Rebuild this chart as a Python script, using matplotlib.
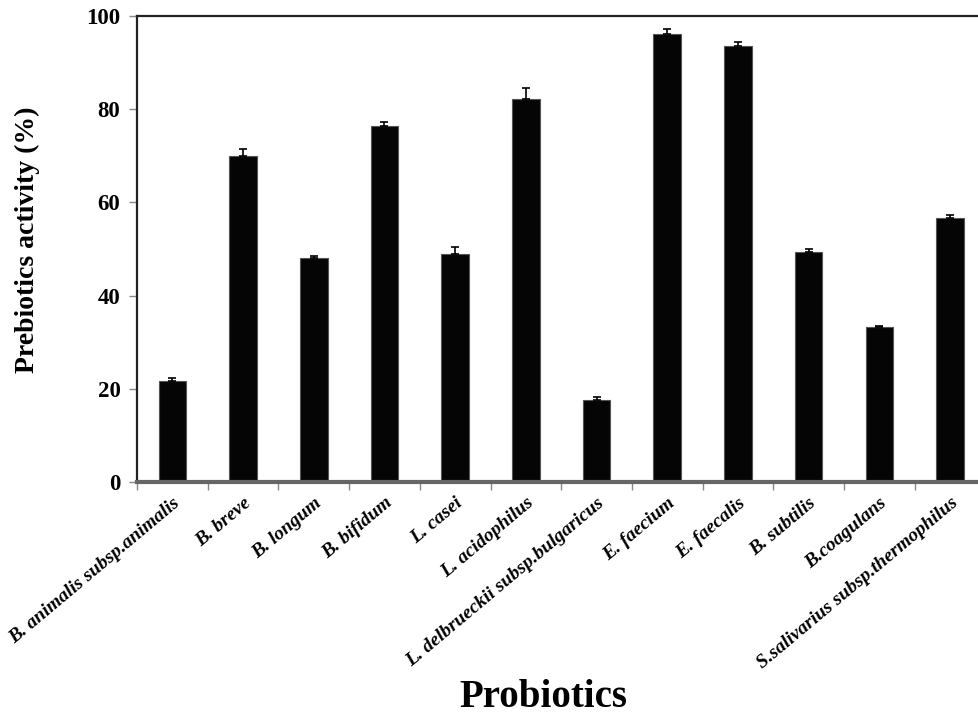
import matplotlib
matplotlib.use("Agg")
import matplotlib.pyplot as plt
from matplotlib.ticker import FixedLocator, NullFormatter
import numpy as np

strains = [
    "B. animalis subsp.animalis", "B. breve", "B. longum", "B. bifidum",
    "L. casei", "L. acidophilus", "L. delbrueckii subsp.bulgaricus",
    "E. faecium", "E. faecalis", "B. subtilis", "B.coagulans",
    "S.salivarius subsp.thermophilus",
]
activity = [21.6, 70.0, 48.0, 76.4, 48.9, 82.1, 17.5, 96.1, 93.5, 49.3, 33.2, 56.7]
activity_err = [0.7, 1.4, 0.6, 0.9, 1.5, 2.5, 0.7, 1.2, 0.9, 0.6, 0.3, 0.6]
y_ticks = [0, 20, 40, 60, 80, 100]

plt.rcParams["font.family"] = ["Liberation Serif", "DejaVu Serif"]

fig = plt.figure(figsize=(9.79, 7.16), dpi=100)
ax = fig.add_axes([0.140, 0.3268, 0.8665, 0.6509])

x = np.arange(len(strains))
ax.bar(x, activity, width=0.39, color="#050505", edgecolor="#555555",
       linewidth=0.8, zorder=2)
ax.errorbar(x, activity, yerr=[np.zeros(len(activity_err)), activity_err],
            fmt="none", ecolor="black", elinewidth=1.2, capsize=3,
            capthick=1.2, zorder=3)

ax.set_xlim(-0.5, len(strains) - 0.5)
ax.set_ylim(0, 100)
ax.set_yticks(y_ticks)
ax.set_yticklabels([str(v) for v in y_ticks], fontsize=16.5, fontweight="bold")

ax.set_xticks(x)
ax.set_xticklabels(strains, rotation=40, ha="right", rotation_mode="anchor",
                   fontsize=14, fontweight="bold", fontstyle="italic")
ax.tick_params(axis="x", which="major", length=0, pad=9)
ax.xaxis.set_minor_locator(FixedLocator(np.arange(-0.5, len(strains), 1.0)))
ax.xaxis.set_minor_formatter(NullFormatter())
ax.tick_params(axis="x", which="minor", length=6, width=1, color="#888888",
               direction="out")
ax.tick_params(axis="y", length=6, width=1, color="#888888", direction="out",
               pad=6)

for side in ("top", "left"):
    ax.spines[side].set_color("#222222")
    ax.spines[side].set_linewidth(1.6)
ax.spines["bottom"].set_color("#666666")
ax.spines["bottom"].set_linewidth(3)
ax.spines["right"].set_visible(False)

ax.set_ylabel("Prebiotics activity (%)", fontsize=20, fontweight="bold")
ax.yaxis.set_label_coords(-0.115, 0.52)
ax.set_xlabel("Probiotics", fontsize=28, fontweight="bold")
ax.xaxis.set_label_coords(0.479, -0.422)

fig.savefig("out.png", dpi=100)
